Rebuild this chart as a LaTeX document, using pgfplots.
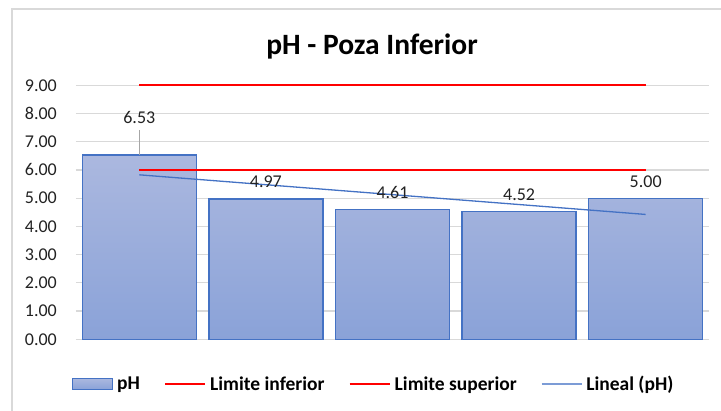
\documentclass[border=0pt]{standalone}
\usepackage{pgfplots}
\pgfplotsset{compat=1.18}
\usepackage{fontspec}
\setmainfont{Carlito}
\definecolor{barTop}{HTML}{ABB8DF}
\definecolor{barBot}{HTML}{8AA2D8}
\definecolor{barEdge}{HTML}{4472C4}
\definecolor{gridc}{HTML}{D9D9D9}
\definecolor{txt}{HTML}{222222}
\definecolor{lim}{HTML}{FF0000}
\begin{document}
\begin{tikzpicture}
\useasboundingbox (-76pt,-71.7pt) rectangle (645pt,339.3pt);
\draw[gridc, line width=1.2pt] (-64pt,-75pt) -- (-64pt,330.3pt) -- (650pt,330.3pt);
\node[font=\fontsize{29.5}{32}\selectfont\bfseries, text=black, anchor=base] at (296pt,285pt) {pH - Poza Inferior};
\begin{axis}[
  at={(0pt,0pt)}, anchor=south west,
  scale only axis, width=633pt, height=254pt,
  xmin=-0.5, xmax=4.5, ymin=0, ymax=9,
  xtick=\empty, ytick={0,1,...,9},
  axis line style={draw=none}, major tick length=0pt,
  ymajorgrids, grid style={gridc, line width=1.2pt},
  /pgf/number format/assume math mode=true,
  yticklabel style={font=\fontsize{18}{20}\selectfont, text=txt, anchor=east, inner sep=0pt, xshift=-19pt,
    /pgf/number format/.cd, fixed, fixed zerofill, precision=2},
  clip=false,
  legend columns=4,
  legend style={at={(0.472,-0.176)}, anchor=center, draw=none, fill=none,
    font=\fontsize{19.5}{22}\selectfont\bfseries, text=black,
    /tikz/every even column/.append style={column sep=20pt},
    nodes={inner sep=4pt}},
]
\addplot[ybar, bar width=114pt, top color=barTop, bottom color=barBot, draw=barEdge, line width=1.3pt,
  nodes near coords, point meta=explicit symbolic,
  every node near coord/.append style={font=\fontsize{18}{20}\selectfont, text=txt, yshift=7pt},
  legend image code/.code={\draw[top color=barTop, bottom color=barBot, draw=barEdge, line width=1pt] (0pt,-5.5pt) rectangle (40pt,5.5pt);}]
  table[meta=lab] {
x y lab
0 6.53 {}
1 4.97 4.97
2 4.61 4.61
3 4.52 4.52
4 5.00 5.00
};
\addlegendentry{pH}
\addplot[lim, line width=2.2pt, legend image code/.code={\draw[lim, line width=2.2pt] (0pt,0pt) -- (40pt,0pt);}]
  coordinates {(0,6) (1,6) (2,6) (3,6) (4,6)};
\addlegendentry{Limite inferior}
\addplot[lim, line width=2.2pt, legend image code/.code={\draw[lim, line width=2.2pt] (0pt,0pt) -- (40pt,0pt);}]
  coordinates {(0,9) (1,9) (2,9) (3,9) (4,9)};
\addlegendentry{Limite superior}
\addplot[barEdge, line width=1.3pt, legend image code/.code={\draw[barEdge!70, line width=1.5pt] (0pt,0pt) -- (40pt,0pt);}]
  coordinates {(0,5.828) (4,4.424)};
\addlegendentry{Lineal (pH)}
\draw[gray!70, line width=1pt] (axis cs:0,6.53) -- (axis cs:0,7.41);
\node[font=\fontsize{18}{20}\selectfont, text=txt] at (axis cs:0,7.87) {6.53};
\end{axis}
\end{tikzpicture}
\end{document}
